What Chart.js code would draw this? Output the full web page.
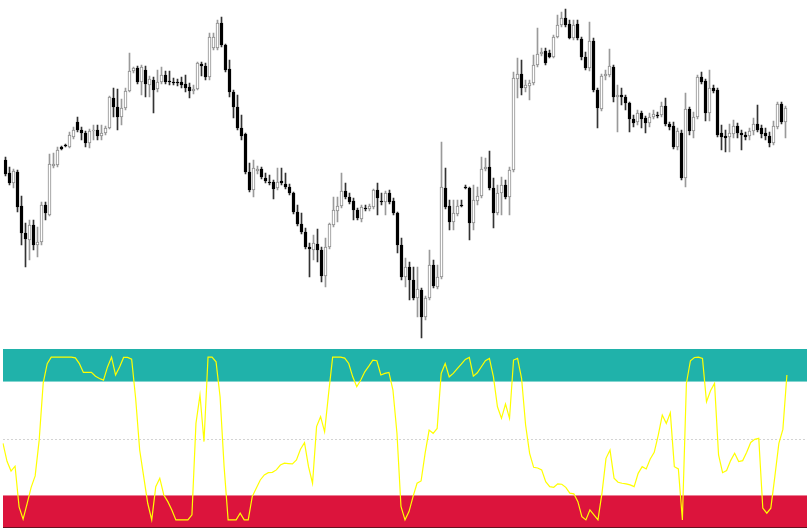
<!DOCTYPE html>
<html>
<head>
<meta charset="utf-8">
<script src="https://cdn.jsdelivr.net/npm/chart.js@4.4.0/dist/chart.umd.min.js"></script>
<style>
  html, body { margin: 0; padding: 0; background: #fff; }
  #price-box { position: absolute; left: 0; top: 0; width: 811px; height: 340px; }
  #osc-box { position: absolute; left: 0; top: 340px; width: 811px; height: 192px; }
</style>
</head>
<body>
<div id="price-box"><canvas id="price" width="811" height="340"></canvas></div>
<div id="osc-box"><canvas id="osc" width="811" height="192"></canvas></div>
<script>
// candles (price units)
const openP = [
  180,167,157,168,134,107,100,115,95,98,
  135,125,174,175,193,195,193,203,218,210,
  207,197,209,210,204,207,212,242,233,223,
  232,249,269,272,258,270,255,260,251,258,
  265,259,258,258,258,256,253,249,251,276,
  274,263,292,292,317,295,271,248,233,212,
  206,168,150,169,171,162,158,158,152,159,
  156,153,147,128,116,108,93,90,96,90,
  64,93,115,129,134,149,143,139,130,121,
  132,131,133,150,139,138,147,139,127,95,
  63,73,60,42,50,23,42,75,53,63,
  152,134,118,126,135,153,
  152,117,139,144,171,173,152,127,147,155,143,
  170,261,266,252,254,257,275,286,289,287,
  283,303,315,322,316,302,316,301,283,272,
  299,250,231,264,265,273,243,245,243,237,
  221,218,227,222,217,223,225,225,234,216,
  214,193,207,162,231,209,223,263,259,227,
  252,250,207,204,203,206,214,207,205,204,
  209,216,212,207,204,197,213,236,218
];
const highP = [
  183,173,171,170,144,117,120,120,113,138,
  138,186,187,193,194,196,208,213,223,213,
  209,211,215,215,215,214,244,252,251,241,
  252,287,273,274,275,274,264,263,270,273,
  269,269,262,261,263,265,257,255,278,278,
  277,307,307,320,323,296,280,250,245,225,
  207,177,180,174,173,167,165,160,172,172,
  167,156,148,135,127,112,97,105,111,93,
  102,117,143,143,167,157,147,142,132,135,
  135,136,151,157,147,149,150,142,128,102,
  82,78,73,73,52,44,90,80,75,198,
  172,140,140,140,140,155,
  153,155,153,183,182,189,162,155,163,160,173,
  268,282,280,260,260,285,312,292,292,290,
  305,325,328,331,320,320,320,303,288,318,
  302,252,266,270,291,275,255,252,245,238,
  225,230,229,224,227,230,228,238,242,218,
  218,212,210,247,233,228,265,268,261,270,
  255,252,215,210,216,220,217,210,208,212,
  222,235,215,212,208,219,238,238,234
];
const lowP = [
  164,155,152,128,95,73,80,90,83,95,
  120,124,172,173,190,193,192,201,208,200,
  193,192,200,200,200,205,211,223,210,215,
  230,248,267,256,245,243,243,227,248,256,
  256,255,255,254,252,248,242,246,250,264,
  260,260,290,290,293,268,243,222,210,200,
  166,148,143,166,161,157,155,141,150,155,
  151,145,126,114,106,91,63,80,78,58,
  53,91,113,118,132,141,136,120,120,118,
  129,129,131,125,135,125,136,125,87,60,
  53,40,40,23,2,20,40,52,51,61,
  131,110,110,124,133,151,
  100,110,135,142,169,150,112,125,125,141,125,
  168,242,245,248,240,255,273,284,275,282,
  282,302,313,313,301,300,300,280,270,269,
  248,212,229,260,263,238,208,235,230,208,
  213,215,212,207,213,221,222,223,214,210,
  191,190,160,153,205,202,221,256,219,219,
  247,203,190,188,188,202,202,190,200,200,
  205,208,202,200,193,195,211,216,202
];
const closeP = [
  166,157,169,133,107,101,115,95,98,135,
  127,176,176,190,191,194,205,210,210,207,
  197,209,210,204,207,212,243,233,223,232,
  249,269,272,258,273,256,261,250,258,265,
  258,258,257,257,255,252,249,251,277,274,
  263,303,303,317,295,270,248,233,212,204,
  168,150,172,171,163,159,157,151,158,157,
  153,147,128,116,108,93,91,97,90,64,
  93,116,130,134,149,143,138,130,122,133,
  131,134,150,142,138,147,138,127,95,63,
  73,60,42,51,23,42,75,54,63,153,
  133,118,127,134,134,152,
  117,140,144,171,173,152,127,147,155,143,170,
  262,266,252,255,257,275,286,288,277,283,
  303,315,322,315,302,315,302,283,272,299,
  250,232,264,266,274,243,245,243,237,221,
  217,227,221,217,223,226,224,234,216,213,
  193,209,162,231,209,223,263,258,227,252,
  249,205,203,202,207,214,207,205,203,209,
  216,210,206,204,197,214,236,218,232
];

// oscillator line (0..100), one point per candle
const stochK = [
  47,36,30,33,8,0.4,10,20,27,49,
  84,96,100,100,100,100,100,100,99.6,96,
  90.6,90.6,90.6,88.3,86.9,85.9,94,100,89,94,
  99.8,99.8,98.8,74.6,42.9,26.6,10.2,0,20.4,25.6,
  15.3,11.2,6.1,0,0,0,0,3.1,59.3,76.7,
  48.1,100,100,97.1,75.7,32.7,0,0,0,4.1,
  0,0,14.3,19.4,24.5,27.6,29,29.2,30.7,33.7,
  34.8,34.6,34.4,36.8,43.4,47.4,32.7,22.5,57.3,63.4,
  54.2,77.7,100,100,100,99.4,96.1,87.9,81.8,85.9,
  91,94.5,98.2,97.8,89,90,90.6,79.8,53.2,8.2,
  0,5.1,14.3,22.5,23.9,40.9,55.2,53.2,56.2,90,
  96.1,87.9,90,93,95.7,98.6,99.8,88.3,90.4,94.1,
  97.8,99.2,87.9,69.5,62.4,71.2,62.4,98.2,99.2,86.9,
  58.3,40.9,32.3,31.9,30.7,23.5,20.4,20,22.1,21.9,
  20,16.4,16,11.2,2,0,6.1,3.1,0,16.4,
  37.8,42.9,25.6,23.1,22.5,22.1,21.5,20.4,28.6,32.7,
  31.3,37.4,41.5,52.1,64.4,59.3,65.8,32.7,31.3,0,
  83.8,97.8,99.8,100,99.2,72.6,79.3,83.8,39.9,29,
  30.3,36.4,40.9,35.8,36.4,41.5,47.6,49.5,50.1,7.2,
  4.1,7.2,26.6,47,55.6,89
];

// oscillator levels
const upperBand = [85, 105];
const lowerBand = [-5, 15];
const midLevel = 50;

// 196 bars plus some empty space on the right
const labels = Array.from({ length: 201 }, (_, i) => i);

const isUp = (i) => closeP[i] > openP[i];

const bodies = openP.map((o, i) => [o, closeP[i]]);
const wicks = lowP.map((l, i) => [l, highP[i]]);

new Chart(document.getElementById("price"), {
  type: "bar",
  data: {
    labels: labels,
    datasets: [
      {
        label: "body",
        data: bodies,
        order: 0,
        grouped: false,
        barThickness: 3,
        minBarLength: 1,
        borderWidth: 1,
        borderSkipped: false,
        backgroundColor: (ctx) => (isUp(ctx.dataIndex) ? "#ffffff" : "#000000"),
        borderColor: (ctx) => (isUp(ctx.dataIndex) ? "#8c8c8c" : "#000000"),
      },
      {
        label: "wick",
        data: wicks,
        order: 1,
        grouped: false,
        barThickness: 1,
        borderWidth: 0,
        backgroundColor: (ctx) => (isUp(ctx.dataIndex) ? "#9a9a9a" : "#333333"),
      },
    ],
  },
  options: {
    responsive: false,
    animation: false,
    layout: { padding: { left: 3.5, right: 3.5, top: 0, bottom: 0 } },
    plugins: { legend: { display: false }, tooltip: { enabled: false } },
    scales: {
      x: { display: false, offset: true },
      y: { display: false, min: 0, max: 340 },
    },
  },
});

// draws the level zones and the middle line under the oscillator
const levelZones = {
  id: "levelZones",
  beforeDatasetsDraw(chart) {
    const { ctx, chartArea, scales } = chart;
    const y = scales.y;
    const left = chartArea.left;
    const width = chartArea.right - chartArea.left;
    ctx.save();
    ctx.fillStyle = "#20b2aa";
    let top = y.getPixelForValue(upperBand[1]);
    let bot = y.getPixelForValue(upperBand[0]);
    ctx.fillRect(left, top, width, bot - top);
    ctx.fillStyle = "#dc143c";
    top = y.getPixelForValue(lowerBand[1]);
    bot = y.getPixelForValue(lowerBand[0]);
    ctx.fillRect(left, top, width, bot - top);
    ctx.strokeStyle = "#6b1020";
    ctx.lineWidth = 1;
    ctx.beginPath();
    ctx.moveTo(left, Math.round(bot) - 0.5);
    ctx.lineTo(chartArea.right, Math.round(bot) - 0.5);
    ctx.stroke();
    const mid = Math.round(y.getPixelForValue(midLevel)) + 0.5;
    ctx.strokeStyle = "#d3d3d3";
    ctx.setLineDash([2, 2]);
    ctx.beginPath();
    ctx.moveTo(left, mid);
    ctx.lineTo(chartArea.right, mid);
    ctx.stroke();
    ctx.restore();
  },
};

new Chart(document.getElementById("osc"), {
  type: "line",
  data: {
    labels: labels,
    datasets: [
      {
        label: "%K",
        data: stochK,
        borderColor: "#ffff00",
        borderWidth: 1.2,
        pointRadius: 0,
        tension: 0,
        fill: false,
      },
    ],
  },
  options: {
    responsive: false,
    animation: false,
    layout: { padding: { left: 3, right: 4, top: 9, bottom: 4 } },
    plugins: { legend: { display: false }, tooltip: { enabled: false } },
    scales: {
      x: { display: false, offset: false },
      y: { display: false, min: -5, max: 105 },
    },
  },
  plugins: [levelZones],
});
</script>
</body>
</html>
